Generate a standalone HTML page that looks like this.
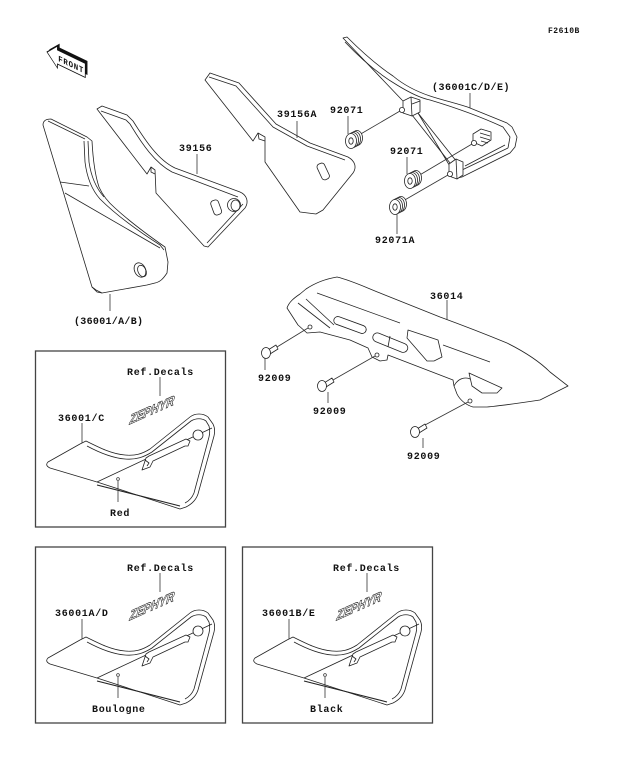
<!DOCTYPE html>
<html><head><meta charset="utf-8"><style>
html,body{margin:0;padding:0;background:#fff;}
svg{display:block;}
.t{font-family:"Liberation Mono",monospace;font-size:10px;font-weight:bold;letter-spacing:0.7px;fill:#111;}
.s{fill:#fff;stroke:#222;stroke-width:0.8;stroke-linejoin:round;}
.l{fill:none;stroke:#222;stroke-width:0.8;stroke-linejoin:round;}
.ld{fill:none;stroke:#333;stroke-width:0.8;}
</style></head><body>
<svg width="624" height="763" viewBox="0 0 624 763" xmlns="http://www.w3.org/2000/svg">
<rect width="624" height="763" fill="#fff"/>

<!-- F2610B -->
<text x="548" y="33" style="font-family:'Liberation Mono',monospace;font-size:8px;font-weight:bold;letter-spacing:0.5px;fill:#111">F2610B</text>

<!-- FRONT arrow -->
<g transform="matrix(0.87,0.42,0,1,47,52)">
  <polygon points="0,0 12,-11 12,-7 44,-7 44,7 12,7 12,11" transform="translate(2.5,-3.5)" fill="#111"/>
  <polygon points="0,0 12,-11 12,-7 44,-7 44,7 12,7 12,11" fill="#fff" stroke="#111" stroke-width="0.9"/>
  <text x="13" y="3.5" style="font-family:'Liberation Mono',monospace;font-size:8.5px;font-weight:bold;letter-spacing:0.8px;fill:#111">FRONT</text>
</g>

<!-- 36001/A/B large cover -->
<path class="s" d="M43,125 C43,121 46,119 51,119 L87,137 L92,141 C93,160 95,175 99,187 C103,196 108,202 115,208 C128,220 145,233 165,247 L168,262 L167,273 C163,279 160,282 155,283 L147,285 L102,293 L97,292 L92,287 Z"/>
<path class="l" d="M48,121 L85,139"/>
<path class="l" d="M84,141 L85,162 C87,178 92,190 100,199 C115,214 135,229 160,245 L164,250"/>
<path class="l" d="M88,141 L89,162 C91,176 96,188 104,197"/>
<path class="l" d="M60,182 L89,186"/>
<path class="l" d="M65,193 L160,248"/>
<path class="l" d="M92,287 L96,290 L102,293"/>
<ellipse cx="140" cy="270" rx="5.5" ry="7.5" transform="rotate(-25 140 270)" class="s"/>
<ellipse cx="142" cy="271" rx="4" ry="6" transform="rotate(-25 142 271)" class="l"/>
<line class="ld" x1="110" y1="294" x2="110" y2="311"/>
<text class="t" x="74" y="324" style="letter-spacing:0.3px">(36001/A/B)</text>

<!-- 39156 panel -->
<path class="s" d="M97,109 L102,106 L127,115 L133,121 C145,140 158,160 175,168 L240,192 C247,195 249,202 245,208 L208,247 L204,246 L156,193 L155,170 L151,167 L147,174 Z"/>
<path class="l" d="M101,111 L126,120 L130,124 C142,144 155,163 172,172 L238,197"/>
<path class="l" d="M243,204 L207,243"/>
<path class="l" d="M151,167 L151,172 L155,174"/>
<rect x="212" y="200" width="8" height="15" rx="3" transform="rotate(-20 216 207)" class="s"/>
<circle cx="234" cy="205" r="6.5" class="s"/>
<ellipse cx="235.5" cy="205.5" rx="4.5" ry="5.5" class="l"/>
<line class="ld" x1="197" y1="154" x2="197" y2="174"/>
<text class="t" x="179" y="151">39156</text>

<!-- 39156A panel -->
<path class="s" d="M205,80 L210,73 L239,83 L276,124 L310,143 L348,157 C355,161 357,167 353,173 L323,210 L316,214 L300,212 L265,162 L265,137 L258,133 L253,141 Z"/>
<path class="l" d="M209,77 L236,86 L273,127 L307,146 L345,160"/>
<path class="l" d="M258,133 L259,139 L265,141"/>
<rect x="319" y="163" width="8" height="17" rx="3" transform="rotate(-25 323 171)" class="s"/>
<line class="ld" x1="297" y1="121" x2="297" y2="138"/>
<text class="t" x="277" y="117">39156A</text>

<!-- 36001C/D/E rear piece -->
<path class="s" d="M343,38 L347,37 C362,52 378,66 393,76 C405,86 418,92 430,96 C445,101 460,104 470,108 L507,123 L512,127 L517,137 L515,147 L510,153 L462,177 L457,178 L418,113 L402,100 Z"/>
<path class="l" d="M345,42 C360,58 377,73 397,85 C410,93 420,98 430,100 C450,106 475,114 503,127 L510,137 L508,148"/>
<path class="l" d="M412,115 L450,163"/>
<path class="l" d="M418,113 L457,162"/>
<path class="l" d="M462,170 L508,148"/>
<path class="l" d="M465,166 L505,145"/>
<polygon class="s" points="403,101 411,97 420,100 420,112 412,116 403,113"/>
<path class="l" d="M411,97 L412,116 M412,104 L420,101"/>
<circle cx="402" cy="110" r="2.6" class="s"/>
<polygon class="s" points="449,164 456,159 463,162 463,175 457,179 449,176"/>
<path class="l" d="M456,159 L457,179"/>
<circle cx="450" cy="174" r="2.6" class="s"/>
<polygon class="s" points="473,134 481,129 491,132 491,140 482,146 473,142"/>
<path class="l" d="M480,133 L490,136 M480,137 L490,140 M481,141 L488,143"/>
<circle cx="474" cy="143" r="2.6" class="s"/>
<line class="ld" x1="470" y1="93" x2="470" y2="108"/>
<text class="t" x="432" y="90" style="letter-spacing:0.5px">(36001C/D/E)</text>

<!-- grommets -->
<g>
  <line class="ld" x1="359" y1="135" x2="400" y2="111"/>
  <ellipse cx="357" cy="138" rx="5.5" ry="7.5" class="s"/>
  <ellipse cx="355" cy="139" rx="5.5" ry="7.5" class="s"/>
  <ellipse cx="353" cy="140" rx="5.5" ry="7.5" class="s"/>
  <ellipse cx="351" cy="141" rx="5.5" ry="7.5" class="s"/>
  <ellipse cx="351" cy="141" rx="2.2" ry="3.2" class="l"/>
  <line class="ld" x1="348" y1="116" x2="348" y2="134"/>
  <text class="t" x="330" y="113">92071</text>
</g>
<g>
  <line class="ld" x1="418" y1="176" x2="472" y2="144"/>
  <ellipse cx="416" cy="178" rx="5.5" ry="7.5" class="s"/>
  <ellipse cx="414" cy="179" rx="5.5" ry="7.5" class="s"/>
  <ellipse cx="412" cy="180" rx="5.5" ry="7.5" class="s"/>
  <ellipse cx="410" cy="181" rx="5.5" ry="7.5" class="s"/>
  <ellipse cx="410" cy="181" rx="2.2" ry="3.2" class="l"/>
  <line class="ld" x1="407" y1="157" x2="407" y2="174"/>
  <text class="t" x="390" y="154">92071</text>
</g>
<g>
  <line class="ld" x1="403" y1="201" x2="448" y2="175"/>
  <ellipse cx="401" cy="204" rx="5.5" ry="7.5" class="s"/>
  <ellipse cx="399" cy="205" rx="5.5" ry="7.5" class="s"/>
  <ellipse cx="397" cy="206" rx="5.5" ry="7.5" class="s"/>
  <ellipse cx="395" cy="207" rx="5.5" ry="7.5" class="s"/>
  <ellipse cx="395" cy="207" rx="2.2" ry="3.2" class="l"/>
  <line class="ld" x1="397" y1="214" x2="397" y2="234"/>
  <text class="t" x="375" y="243">92071A</text>
</g>

<!-- 36014 chain guard -->
<path class="s" d="M287,308 C289,302 294,298 300,294 L306,289 C315,283 325,279 337,277 C350,280 365,287 380,293 L440,317 C470,328 490,336 507,343 C525,352 540,362 550,372 L568,386 L540,400 C520,403 500,406 487,407 L473,407 C466,405 460,400 457,394 L454,386 L453,380 L440,375 L388,355 L387,360 L380,361 L372,357 L368,348 L350,340 L320,332 L307,333 L298,325 Z"/>
<path class="l" d="M298,303 L330,328"/>
<path class="l" d="M306,299 L334,325"/>
<path class="l" d="M317,293 L400,323"/>
<path class="l" d="M443,345 L490,362"/>
<circle cx="310" cy="327" r="2" class="l"/>
<circle cx="377" cy="355" r="2" class="l"/>
<circle cx="470" cy="401" r="2" class="l"/>
<path class="l" d="M454,386 C458,378 466,376 472,380"/>
<rect x="333" y="321" width="34" height="8" rx="4" transform="rotate(20 350 325)" class="s"/>
<rect x="372" y="338" width="37" height="9" rx="4.5" transform="rotate(22 390 342)" class="s"/>
<path class="l" d="M390,336 L388,347"/>
<path class="s" d="M408,330 L438,340 L442,357 L434,361 L427,361 L407,338 Z"/>
<path class="s" d="M469,373 L502,388 L497,393 L482,393 L472,386 Z"/>
<line class="ld" x1="447" y1="300" x2="447" y2="320"/>
<text class="t" x="430" y="299">36014</text>

<!-- bolts -->
<g>
  <line class="ld" x1="277" y1="347" x2="308" y2="328"/>
  <polygon class="s" points="268,350 276,345 278,349 270,354"/>
  <ellipse cx="266" cy="353" rx="4.5" ry="5.5" class="s"/>
  <line class="ld" x1="265" y1="358" x2="265" y2="370"/>
  <text class="t" x="258" y="381">92009</text>
</g>
<g>
  <line class="ld" x1="333" y1="380" x2="375" y2="356"/>
  <polygon class="s" points="324,383 332,378 334,382 326,387"/>
  <ellipse cx="322" cy="386" rx="4.5" ry="5.5" class="s"/>
  <line class="ld" x1="328" y1="392" x2="328" y2="403"/>
  <text class="t" x="313" y="414">92009</text>
</g>
<g>
  <line class="ld" x1="425" y1="425" x2="468" y2="402"/>
  <polygon class="s" points="417,429 425,424 427,428 419,433"/>
  <ellipse cx="415" cy="432" rx="4.5" ry="5.5" class="s"/>
  <line class="ld" x1="423" y1="438" x2="423" y2="448"/>
  <text class="t" x="407" y="459">92009</text>
</g>

<!-- Boxes -->
<rect x="35.5" y="351" width="190" height="176" fill="none" stroke="#444" stroke-width="1.3"/>
<rect x="35.5" y="547" width="190" height="176" fill="none" stroke="#444" stroke-width="1.3"/>
<rect x="242.5" y="547" width="190" height="176" fill="none" stroke="#444" stroke-width="1.3"/>

<!-- box content shapes -->
<g id="cov">
  <path class="s" d="M48,462 L80,444 L86,441 C100,448 112,454 125,455 C135,456 142,454 150,449 L190,417 C195,413 203,413 208,417 L213,424 C215,428 215,432 214,436 L198,494 C196,500 192,504 186,507 L180,509 L97,482 L50,468 C46,466 46,464 48,462 Z"/>
  <path class="l" d="M87,446 C100,453 112,458 125,459 C136,460 144,457 152,452 L191,421 C196,418 202,418 206,421 L209,426 C210,430 210,433 209,437 L194,493 C192,498 189,501 185,503"/>
  <path class="l" d="M97,482 L212,428"/>
  <path class="l" d="M97,485 L180,506" style="stroke-width:1.1"/>
  <circle cx="198" cy="435" r="5" class="s"/>
  <path class="s" d="M142,470 L146,458 L149,456 L186,439 L190,441 L188,446 L185,446 L153,461 L150,467 Z"/>
  <path class="l" d="M145,460 L149,463 L147,466"/>
  <g transform="translate(152,410) rotate(-24) skewX(-30)">
    <text x="0" y="4" text-anchor="middle" style="font-family:'Liberation Sans',sans-serif;font-size:12px;font-weight:bold;font-style:italic;fill:#fff;stroke:#222;stroke-width:0.6">ZEPHYR</text>
  </g>
  <circle cx="118" cy="479" r="1.4" fill="none" stroke="#333" stroke-width="0.7"/>
  <line class="ld" x1="118" y1="481" x2="118" y2="502"/>
  <line class="ld" x1="160" y1="377" x2="160" y2="396"/>
  <line class="ld" x1="82" y1="423" x2="82" y2="443"/>
</g>
<use href="#cov" transform="translate(0,196)"/>
<use href="#cov" transform="translate(207,196)"/>

<!-- box texts -->
<text class="t" x="127" y="375">Ref.Decals</text>
<text class="t" x="58" y="421">36001/C</text>
<text class="t" x="110" y="516">Red</text>

<text class="t" x="127" y="571">Ref.Decals</text>
<text class="t" x="55" y="616">36001A/D</text>
<text class="t" x="92" y="712">Boulogne</text>

<text class="t" x="333" y="571">Ref.Decals</text>
<text class="t" x="262" y="616">36001B/E</text>
<text class="t" x="310" y="712">Black</text>
</svg>
</body></html>
